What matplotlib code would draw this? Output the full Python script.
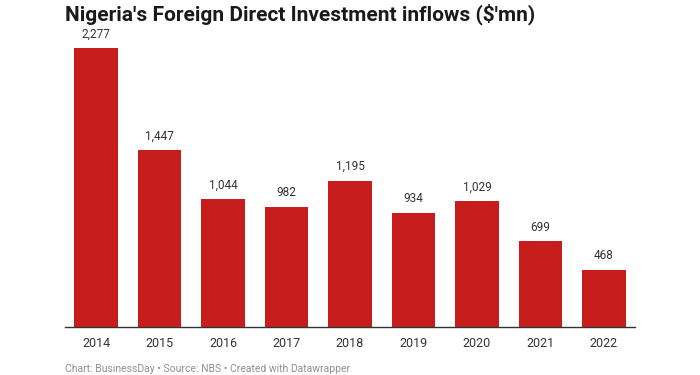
import matplotlib
matplotlib.use("Agg")
import matplotlib.pyplot as plt

years = ["2014", "2015", "2016", "2017", "2018", "2019", "2020", "2021", "2022"]
values = [2277, 1447, 1044, 982, 1195, 934, 1029, 699, 468]
labels = ["2,277", "1,447", "1,044", "982", "1,195", "934", "1,029", "699", "468"]

plt.rcParams['font.family'] = ['Roboto', 'DejaVu Sans']

fig = plt.figure(figsize=(7, 3.75), dpi=100)
ax = fig.add_axes([65/700, 1 - 327/375, 570/700, 297/375])
x = list(range(len(years)))
ax.bar(x, values, width=0.69, color="#c71e1d", zorder=2)
for xi, v, lab in zip(x, values, labels):
    ax.text(xi, v + 60, lab, ha="center", va="bottom", fontsize=8.5, color="#333333")
ax.set_xlim(-0.49, 8.49)
ax.set_ylim(0, 2424)
ax.set_yticks([])
ax.set_xticks(x)
ax.set_xticklabels(years, fontsize=9, color="#333333")
ax.tick_params(axis="x", length=0, pad=7)
for s in ["top", "right", "left"]:
    ax.spines[s].set_visible(False)
ax.spines["bottom"].set_color("#333333")
ax.spines["bottom"].set_linewidth(1)

fig.text(65/700, 1 - 14/375, "Nigeria's Foreign Direct Investment inflows ($'mn)",
         fontsize=15, fontweight="bold", color="#1a1a1a", va="center", ha="left")
fig.text(65/700, 1 - 369/375, "Chart: BusinessDay • Source: NBS • Created with Datawrapper",
         fontsize=7.5, color="#909090", va="center", ha="left")

fig.savefig("out.png", dpi=100)
